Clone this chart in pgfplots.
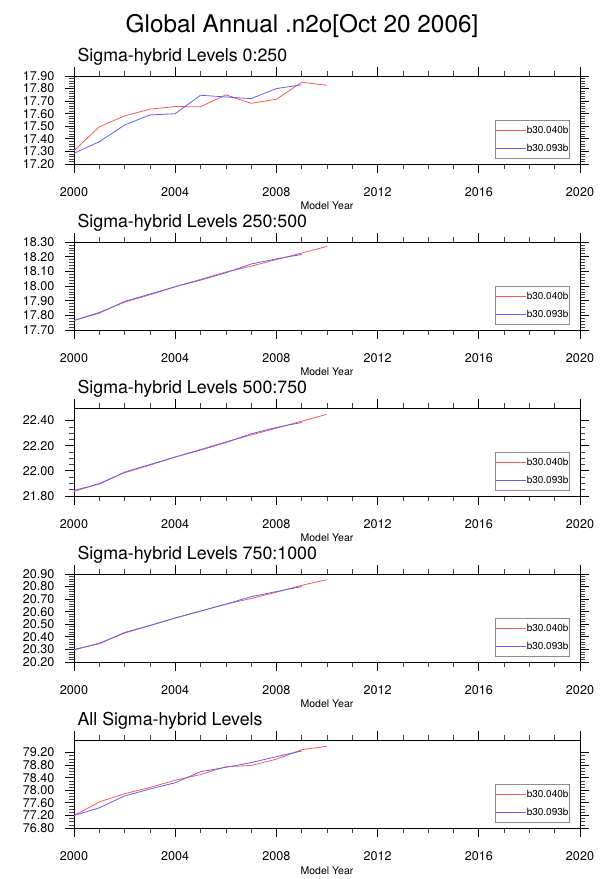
\documentclass[border=0pt]{standalone}
\usepackage{fontspec}
\setmainfont{TeX Gyre Heros}
\usepackage{pgfplots}
\pgfplotsset{compat=1.18}
\definecolor{lred}{RGB}{255,85,85}
\definecolor{lblue}{RGB}{95,95,255}
\pgfplotsset{
  panel/.style={
    scale only axis, width=506pt, height=88pt,
    xmin=2000, xmax=2020,
    xtick={2000,2004,2008,2012,2016,2020}, minor x tick num=3,
    tick align=outside, tick pos=both,
    major tick length=9pt, minor tick length=5pt,
    axis line style={line width=0.9pt},
    major tick style={line width=0.8pt, black},
    minor tick style={line width=0.6pt, black!75},
    /pgf/number format/assume math mode=true,
    xticklabel style={font=\fontsize{12.6}{12.6}\selectfont, yshift=-11pt, /pgf/number format/set thousands separator={}},
    yticklabel style={font=\fontsize{12.6}{12.6}\selectfont, xshift=-7pt, /pgf/number format/.cd, fixed, fixed zerofill, precision=2},
    xlabel={Model Year},
    xlabel style={at={(0.5,0)}, anchor=base, yshift=-46pt, font=\fontsize{10.5}{10.5}\selectfont},
    title style={at={(0,1)}, anchor=base west, yshift=8pt, font=\fontsize{17.8}{17.8}\selectfont},
    legend style={at={(0.980,0.057)}, anchor=south east, draw=black!45, line width=0.8pt, fill=white,
      font=\fontsize{10}{10}\selectfont, inner xsep=1pt, inner ysep=4pt, row sep=5pt,
      nodes={inner xsep=0pt, inner ysep=2pt}},
    legend cell align=left,
    legend image code/.code={\draw[#1] (0pt,0pt) -- (30pt,0pt);},
    every axis plot/.append style={line width=0.8pt},
  }
}
\begin{document}
\begin{tikzpicture}
\useasboundingbox (0,0) rectangle (609pt,879pt);
\node[anchor=base, font=\fontsize{24.3}{24.3}\selectfont] at (302pt,846pt) {Global Annual .n2o[Oct 20 2006]};

% Panel 1
\begin{axis}[panel, at={(74pt,803pt)}, anchor=north west,
  title={Sigma-hybrid Levels 0:250},
  ymin=17.2, ymax=17.9, ytick={17.2,17.3,17.4,17.5,17.6,17.7,17.8,17.9}, minor y tick num=4]
\addplot[lred] coordinates {(2000,17.306) (2001,17.496) (2002,17.583) (2003,17.636) (2004,17.657) (2005,17.655) (2006,17.75) (2007,17.683) (2008,17.715) (2009,17.85) (2010,17.826)};
\addplot[lblue] coordinates {(2000,17.285) (2001,17.377) (2002,17.51) (2003,17.59) (2004,17.60) (2005,17.747) (2006,17.733) (2007,17.72) (2008,17.80) (2009,17.83)};
\legend{b30.040b,b30.093b}
\end{axis}

% Panel 2
\begin{axis}[panel, at={(74pt,637pt)}, anchor=north west,
  title={Sigma-hybrid Levels 250:500},
  ymin=17.7, ymax=18.3, ytick={17.7,17.8,17.9,18.0,18.1,18.2,18.3}, minor y tick num=4]
\addplot[lred] coordinates {(2000,17.765) (2001,17.82) (2002,17.89) (2003,17.94) (2004,17.995) (2005,18.045) (2006,18.095) (2007,18.135) (2008,18.18) (2009,18.225) (2010,18.27)};
\addplot[lblue] coordinates {(2000,17.765) (2001,17.815) (2002,17.895) (2003,17.945) (2004,17.995) (2005,18.04) (2006,18.09) (2007,18.15) (2008,18.185) (2009,18.215)};
\legend{b30.040b,b30.093b}
\end{axis}

% Panel 3
\begin{axis}[panel, at={(74pt,471pt)}, anchor=north west,
  title={Sigma-hybrid Levels 500:750},
  ymin=21.8, ymax=22.5, ytick={21.8,22.0,22.2,22.4}, minor y tick num=3]
\addplot[lred] coordinates {(2000,21.835) (2001,21.90) (2002,21.985) (2003,22.045) (2004,22.11) (2005,22.17) (2006,22.23) (2007,22.285) (2008,22.34) (2009,22.395) (2010,22.45)};
\addplot[lblue] coordinates {(2000,21.845) (2001,21.895) (2002,21.99) (2003,22.05) (2004,22.11) (2005,22.165) (2006,22.225) (2007,22.295) (2008,22.345) (2009,22.385)};
\legend{b30.040b,b30.093b}
\end{axis}

% Panel 4
\begin{axis}[panel, at={(74pt,305pt)}, anchor=north west,
  title={Sigma-hybrid Levels 750:1000},
  ymin=20.2, ymax=20.9, ytick={20.2,20.3,20.4,20.5,20.6,20.7,20.8,20.9}, minor y tick num=4]
\addplot[lred] coordinates {(2000,20.295) (2001,20.35) (2002,20.43) (2003,20.49) (2004,20.55) (2005,20.605) (2006,20.66) (2007,20.705) (2008,20.755) (2009,20.81) (2010,20.855)};
\addplot[lblue] coordinates {(2000,20.30) (2001,20.345) (2002,20.435) (2003,20.49) (2004,20.55) (2005,20.605) (2006,20.66) (2007,20.72) (2008,20.76) (2009,20.80)};
\legend{b30.040b,b30.093b}
\end{axis}

% Panel 5
\begin{axis}[panel, at={(74pt,139pt)}, anchor=north west,
  title={All Sigma-hybrid Levels},
  ymin=76.8, ymax=79.6, ytick={76.8,77.2,77.6,78.0,78.4,78.8,79.2}, minor y tick num=3]
\addplot[lred] coordinates {(2000,77.195) (2001,77.63) (2002,77.89) (2003,78.09) (2004,78.32) (2005,78.50) (2006,78.75) (2007,78.79) (2008,78.99) (2009,79.29) (2010,79.40)};
\addplot[lblue] coordinates {(2000,77.20) (2001,77.44) (2002,77.82) (2003,78.04) (2004,78.24) (2005,78.59) (2006,78.73) (2007,78.88) (2008,79.07) (2009,79.25)};
\legend{b30.040b,b30.093b}
\end{axis}
\end{tikzpicture}
\end{document}
